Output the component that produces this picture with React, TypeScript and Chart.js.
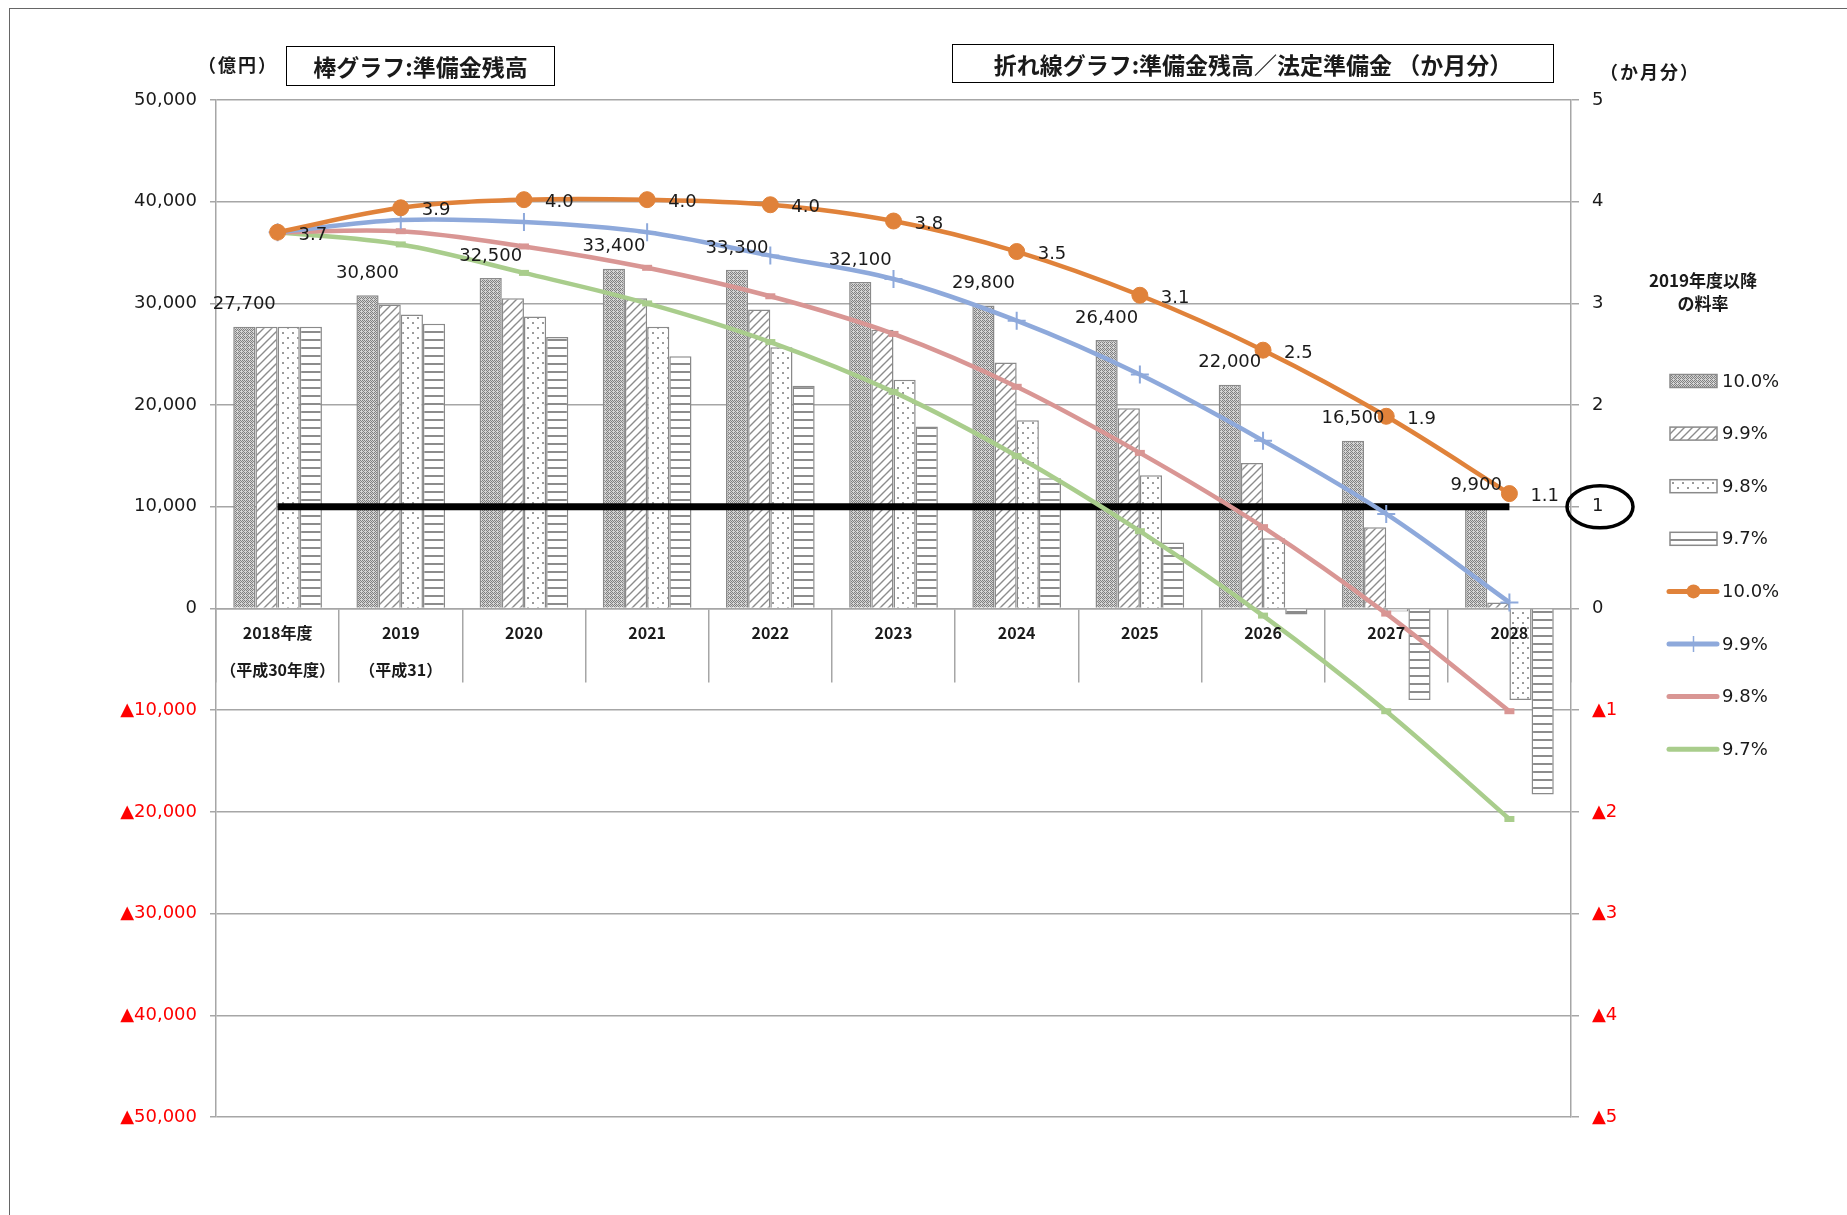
import React, { useEffect, useRef } from 'react';
import { Chart, registerables } from 'chart.js';

Chart.register(...registerables);

const FONT = '"Noto Sans CJK JP", "Noto Sans", sans-serif';
const NUMFONT = '"DejaVu Sans", "Noto Sans CJK JP", sans-serif';

// ---------- data ----------
const categories: (string | string[])[] = [
  ['2018年度', '（平成30年度）'],
  ['2019', '（平成31）'],
  '2020', '2021', '2022', '2023', '2024', '2025', '2026', '2027', '2028',
];

const seriesNames = ['10.0%', '9.9%', '9.8%', '9.7%'];

// 準備金残高 (億円) – bars
const bar100 = [27700, 30800, 32500, 33400, 33300, 32100, 29800, 26400, 22000, 16500, 9900];
const bar099 = [27700, 29900, 30500, 30500, 29400, 27400, 24200, 19700, 14300, 8000, 600];
const bar098 = [27700, 28900, 28700, 27700, 25700, 22500, 18500, 13100, 6900, -300, -9000];
const bar097 = [27700, 28000, 26700, 24800, 21900, 17900, 12800, 6500, -600, -9000, -18300];

// 準備金残高／法定準備金 (か月分) – lines
const line100 = [3.7, 3.94, 4.02, 4.02, 3.97, 3.81, 3.51, 3.08, 2.54, 1.89, 1.13];
const line099 = [3.7, 3.82, 3.8, 3.7, 3.47, 3.24, 2.83, 2.3, 1.65, 0.93, 0.06];
const line098 = [3.7, 3.71, 3.56, 3.35, 3.07, 2.7, 2.18, 1.53, 0.8, -0.05, -1.01];
const line097 = [3.7, 3.58, 3.3, 3.0, 2.62, 2.13, 1.5, 0.76, -0.07, -1.01, -2.07];

// 基準線 (1か月分 = 10,000億円)
const refLine = [10000, 10000, 10000, 10000, 10000, 10000, 10000, 10000, 10000, 10000, 10000];

const leftTicksMin = -50000;
const leftTicksMax = 50000;
const rightTicksMin = -5;
const rightTicksMax = 5;

const legendTitle = ['2019年度以降', 'の料率'];
const lineColors = ['#E0823A', '#8EA9DB', '#D99694', '#A9CD8C'];

// ---------- patterns ----------
function makePattern(kind: string): CanvasPattern | string {
  const c = document.createElement('canvas');
  const g = c.getContext('2d');
  if (!g) return '#ccc';
  if (kind === 'mesh') {
    c.width = 4; c.height = 4;
    g.fillStyle = '#d4d4d4'; g.fillRect(0, 0, 4, 4);
    g.fillStyle = '#808080';
    g.fillRect(0, 0, 1, 1); g.fillRect(2, 0, 1, 1);
    g.fillRect(1, 1, 1, 1); g.fillRect(3, 1, 1, 1);
    g.fillRect(0, 2, 1, 1); g.fillRect(2, 2, 1, 1);
    g.fillRect(3, 3, 1, 1);
  } else if (kind === 'diag') {
    c.width = 8; c.height = 8;
    g.fillStyle = '#fff'; g.fillRect(0, 0, 8, 8);
    g.strokeStyle = '#8c8c8c'; g.lineWidth = 1.4;
    g.beginPath();
    g.moveTo(-1, 9); g.lineTo(9, -1);
    g.moveTo(-1, 1); g.lineTo(1, -1);
    g.moveTo(7, 9); g.lineTo(9, 7);
    g.stroke();
  } else if (kind === 'dots') {
    c.width = 10; c.height = 10;
    g.fillStyle = '#fff'; g.fillRect(0, 0, 10, 10);
    g.fillStyle = '#9a9a9a';
    g.fillRect(2, 2, 2, 2);
    g.fillRect(7, 7, 2, 2);
  } else {
    c.width = 8; c.height = 8;
    g.fillStyle = '#fff'; g.fillRect(0, 0, 8, 8);
    g.fillStyle = '#8c8c8c';
    g.fillRect(0, 3, 8, 2);
  }
  return g.createPattern(c, 'repeat') || '#ccc';
}

function fmtLeft(v: number): string {
  const s = Math.abs(v).toLocaleString('en-US');
  return v < 0 ? '▲' + s : s;
}
function fmtRight(v: number): string {
  return v < 0 ? '▲' + Math.abs(v) : String(v);
}

export default function App() {
  const ref = useRef<HTMLCanvasElement | null>(null);

  useEffect(() => {
    if (!ref.current) return;
    Chart.defaults.font.family = FONT;
    const patterns = ['mesh', 'diag', 'dots', 'hstripe'].map(makePattern);
    const barData = [bar100, bar099, bar098, bar097];
    const lineData = [line100, line099, line098, line097];
    const pointStyles = ['circle', 'cross', 'line', 'line'];
    const pointRadii = [8, 9, 5, 5];
    const pointBorder = [1, 2, 6, 6];

    const labelPlugin = {
      id: 'valueLabels',
      afterDatasetsDraw(chart: any) {
        const ctx = chart.ctx;
        ctx.save();
        ctx.font = `18px ${NUMFONT}`;
        ctx.fillStyle = '#1a1a1a';
        ctx.textAlign = 'center';
        ctx.textBaseline = 'middle';
        chart.getDatasetMeta(0).data.forEach((el: any, i: number) => {
          ctx.fillText(bar100[i].toLocaleString('en-US'), el.x, el.y - 22);
        });
        ctx.textAlign = 'left';
        chart.getDatasetMeta(5).data.forEach((el: any, i: number) => {
          ctx.fillText(line100[i].toFixed(1), el.x + 21, el.y + 3);
        });
        ctx.restore();
      },
      afterDraw(chart: any) {
        const ctx = chart.ctx;
        const area = chart.chartArea;
        const y2 = chart.scales.y2;
        ctx.save();
        // ellipse around "1"
        ctx.strokeStyle = '#000';
        ctx.lineWidth = 3.5;
        ctx.beginPath();
        ctx.ellipse(y2.left + 29, y2.getPixelForValue(1), 33, 21, 0, 0, Math.PI * 2);
        ctx.stroke();

        // legend
        const sx = area.right + 99;
        const sw = 47;
        const tx = area.right + 151;
        ctx.fillStyle = '#1a1a1a';
        ctx.font = `bold 17px ${FONT}`;
        ctx.textAlign = 'center';
        ctx.textBaseline = 'middle';
        ctx.fillText(legendTitle[0], area.right + 132, 281);
        ctx.fillText(legendTitle[1], area.right + 132, 304);
        const y0 = 381;
        const step = 52.6;
        ctx.font = `18px ${NUMFONT}`;
        ctx.textAlign = 'left';
        for (let i = 0; i < 4; i++) {
          const y = y0 + i * step;
          ctx.fillStyle = patterns[i] as any;
          ctx.fillRect(sx, y - 6.5, sw, 13);
          ctx.strokeStyle = '#8a8a8a';
          ctx.lineWidth = 1.5;
          ctx.strokeRect(sx, y - 6.5, sw, 13);
          ctx.fillStyle = '#1a1a1a';
          ctx.fillText(seriesNames[i], tx, y + 1);
        }
        for (let i = 0; i < 4; i++) {
          const y = y0 + (i + 4) * step;
          ctx.strokeStyle = lineColors[i];
          ctx.lineWidth = 5;
          ctx.lineCap = 'round';
          ctx.beginPath();
          ctx.moveTo(sx - 1, y);
          ctx.lineTo(sx + sw, y);
          ctx.stroke();
          if (i === 0) {
            ctx.fillStyle = lineColors[0];
            ctx.beginPath();
            ctx.arc(sx + sw / 2, y, 7, 0, Math.PI * 2);
            ctx.fill();
          } else if (i === 1) {
            ctx.lineWidth = 1.5;
            ctx.lineCap = 'butt';
            ctx.beginPath();
            ctx.moveTo(sx + sw / 2, y - 8);
            ctx.lineTo(sx + sw / 2, y + 8);
            ctx.stroke();
          }
          ctx.fillStyle = '#1a1a1a';
          ctx.fillText(seriesNames[i], tx, y + 1);
        }
        ctx.restore();
      },
    };

    const datasets: any[] = [];
    for (let i = 0; i < 4; i++) {
      datasets.push({
        type: 'bar',
        label: seriesNames[i],
        data: barData[i],
        backgroundColor: patterns[i],
        borderColor: '#8a8a8a',
        borderWidth: 1.5,
        yAxisID: 'y',
        categoryPercentage: 0.72,
        barPercentage: 1.0,
        order: 10,
      });
    }
    datasets.push({
      type: 'line',
      label: 'ref',
      data: refLine,
      borderColor: '#000',
      borderWidth: 7,
      pointRadius: 0,
      yAxisID: 'y',
      order: 6,
      borderCapStyle: 'butt',
    });
    for (let i = 0; i < 4; i++) {
      datasets.push({
        type: 'line',
        label: seriesNames[i],
        data: lineData[i],
        borderColor: lineColors[i],
        backgroundColor: lineColors[i],
        borderWidth: 4.5,
        tension: 0.35,
        pointStyle: pointStyles[i],
        pointRadius: pointRadii[i],
        pointBorderWidth: pointBorder[i],
        pointBackgroundColor: lineColors[i],
        pointBorderColor: lineColors[i],
        yAxisID: 'y2',
        order: 1 + i,
      });
    }

    const chart = new Chart(ref.current, {
      type: 'bar',
      data: { labels: categories as any, datasets },
      options: {
        animation: false,
        responsive: false,
        devicePixelRatio: 1,
        layout: { padding: { top: 100, bottom: 98, left: 0, right: 0 } },
        plugins: { legend: { display: false }, tooltip: { enabled: false } },
        scales: {
          x: {
            position: { y: 0 } as any,
            offset: true,
            grid: {
              offset: true,
              drawOnChartArea: false,
              drawTicks: true,
              tickLength: 73,
              color: '#A6A6A6',
              lineWidth: 1.5,
            },
            border: { display: true, color: '#A6A6A6', width: 1.5 },
            ticks: {
              z: 1,
              autoSkip: false,
              maxRotation: 0,
              minRotation: 0,
              padding: -67,
              color: '#1a1a1a',
              font: { size: 16, weight: 'bold', lineHeight: 2.3 },
            },
          },
          y: {
            position: 'left',
            min: leftTicksMin,
            max: leftTicksMax,
            afterFit: (s: any) => { s.width = 216; },
            ticks: {
              stepSize: 10000,
              padding: 13,
              font: { size: 18, family: NUMFONT },
              color: (c: any) => (c.tick && c.tick.value < 0 ? '#FF0000' : '#1a1a1a'),
              callback: (v: any) => fmtLeft(Number(v)),
            },
            grid: { color: '#A6A6A6', lineWidth: 1.5, tickLength: 6 },
            border: { display: true, color: '#A6A6A6', width: 1.5 },
          },
          y2: {
            position: 'right',
            min: rightTicksMin,
            max: rightTicksMax,
            afterFit: (s: any) => { s.width = 276; },
            ticks: {
              stepSize: 1,
              padding: 13,
              font: { size: 18, family: NUMFONT },
              color: (c: any) => (c.tick && c.tick.value < 0 ? '#FF0000' : '#1a1a1a'),
              callback: (v: any) => fmtRight(Number(v)),
            },
            grid: { drawOnChartArea: false, color: '#A6A6A6', lineWidth: 1.5, tickLength: 8 },
            border: { display: true, color: '#A6A6A6', width: 1.5 },
          },
        },
      } as any,
      plugins: [labelPlugin],
    });
    return () => chart.destroy();
  }, []);

  const wrap: React.CSSProperties = {
    position: 'absolute', left: 0, top: 0, width: 1847, height: 1215,
    overflow: 'hidden', background: '#fff', fontFamily: FONT, color: '#1a1a1a',
  };
  const boxStyle: React.CSSProperties = {
    position: 'absolute', boxSizing: 'border-box', border: '1.5px solid #000',
    display: 'flex', alignItems: 'center', justifyContent: 'center',
    fontSize: 23, fontWeight: 'bold', whiteSpace: 'nowrap',
  };
  return (
    <div style={wrap}>
      <div style={{ position: 'absolute', left: 9, top: 8, width: 2000, height: 1400, borderTop: '1.5px solid #666', borderLeft: '1.5px solid #666' }} />
      <canvas ref={ref} width={1847} height={1215} style={{ position: 'absolute', left: 0, top: 0, width: 1847, height: 1215 }} />
      <div style={{ position: 'absolute', left: 198, top: 52, fontSize: 18, fontWeight: 'bold', lineHeight: '24px', letterSpacing: 2 }}>（億円）</div>
      <div style={{ ...boxStyle, left: 286, top: 46, width: 269, height: 40 }}>棒グラフ:準備金残高</div>
      <div style={{ ...boxStyle, left: 952, top: 44, width: 602, height: 39 }}>折れ線グラフ:準備金残高／法定準備金 （か月分）</div>
      <div style={{ position: 'absolute', left: 1600, top: 59, fontSize: 18, fontWeight: 'bold', lineHeight: '24px', letterSpacing: 2 }}>（か月分）</div>
    </div>
  );
}
